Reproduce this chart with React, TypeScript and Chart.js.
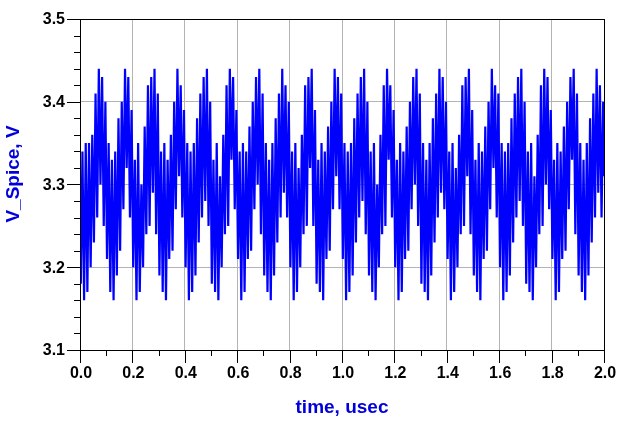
import { useEffect, useRef } from 'react';
import { Chart, registerables } from 'chart.js';

Chart.register(...registerables);

// Transient voltage V_Spice (V); extrema of the fast ripple, one every half-cycle
const halfCycleUs = 0.00625;
const startVolt = 3.30;
const endVolt = 3.31;

// 0.0 – 0.5 usec
const voltsA = [
  3.18, 3.34, 3.16, 3.35, 3.17, 3.35, 3.20, 3.36, 3.23, 3.41, 3.26, 3.44, 3.30, 3.43, 3.25, 3.40,
  3.21, 3.35, 3.17, 3.33, 3.16, 3.34, 3.19, 3.38, 3.22, 3.40, 3.27, 3.44, 3.32, 3.43, 3.26, 3.39,
  3.20, 3.33, 3.16, 3.35, 3.17, 3.30, 3.20, 3.37, 3.24, 3.42, 3.25, 3.43, 3.29, 3.44, 3.24, 3.41,
  3.19, 3.34, 3.17, 3.35, 3.16, 3.33, 3.21, 3.36, 3.22, 3.40, 3.27, 3.44, 3.31, 3.42, 3.26, 3.39,
  3.20, 3.35, 3.16, 3.34, 3.17, 3.35, 3.19, 3.38, 3.23, 3.41, 3.26, 3.43, 3.28, 3.44, 3.25, 3.40,
];
// 0.5 – 1.0 usec
const voltsB = [
  3.18, 3.33, 3.17, 3.35, 3.16, 3.31, 3.20, 3.36, 3.24, 3.42, 3.25, 3.44, 3.33, 3.43, 3.27, 3.39,
  3.21, 3.34, 3.16, 3.35, 3.17, 3.34, 3.21, 3.37, 3.22, 3.40, 3.27, 3.43, 3.30, 3.44, 3.24, 3.41,
  3.19, 3.35, 3.17, 3.33, 3.16, 3.35, 3.19, 3.38, 3.23, 3.41, 3.26, 3.44, 3.29, 3.42, 3.26, 3.40,
  3.20, 3.34, 3.16, 3.35, 3.17, 3.32, 3.20, 3.36, 3.24, 3.42, 3.25, 3.43, 3.32, 3.44, 3.25, 3.39,
  3.18, 3.33, 3.17, 3.35, 3.16, 3.34, 3.21, 3.37, 3.22, 3.40, 3.27, 3.44, 3.31, 3.43, 3.27, 3.41,
];
// 1.0 – 1.5 usec
const voltsC = [
  3.21, 3.35, 3.16, 3.34, 3.17, 3.35, 3.19, 3.38, 3.23, 3.41, 3.26, 3.43, 3.28, 3.44, 3.24, 3.40,
  3.19, 3.34, 3.17, 3.35, 3.16, 3.30, 3.20, 3.36, 3.24, 3.42, 3.25, 3.44, 3.33, 3.42, 3.26, 3.39,
  3.20, 3.33, 3.16, 3.35, 3.17, 3.34, 3.21, 3.37, 3.22, 3.40, 3.27, 3.43, 3.30, 3.44, 3.25, 3.41,
  3.18, 3.35, 3.17, 3.33, 3.16, 3.35, 3.19, 3.38, 3.23, 3.41, 3.26, 3.44, 3.29, 3.43, 3.27, 3.40,
  3.21, 3.34, 3.16, 3.35, 3.17, 3.32, 3.20, 3.36, 3.24, 3.42, 3.25, 3.43, 3.31, 3.44, 3.24, 3.39,
];
// 1.5 – 2.0 usec
const voltsD = [
  3.19, 3.33, 3.17, 3.35, 3.16, 3.34, 3.21, 3.37, 3.22, 3.40, 3.27, 3.44, 3.32, 3.42, 3.26, 3.41,
  3.20, 3.35, 3.16, 3.34, 3.17, 3.35, 3.19, 3.38, 3.23, 3.41, 3.26, 3.43, 3.28, 3.44, 3.25, 3.40,
  3.18, 3.34, 3.17, 3.35, 3.16, 3.31, 3.20, 3.36, 3.24, 3.42, 3.25, 3.44, 3.30, 3.43, 3.27, 3.39,
  3.21, 3.33, 3.16, 3.35, 3.17, 3.34, 3.21, 3.37, 3.22, 3.40, 3.27, 3.43, 3.33, 3.44, 3.24, 3.41,
  3.19, 3.35, 3.17, 3.33, 3.16, 3.35, 3.19, 3.38, 3.23, 3.41, 3.26, 3.44, 3.29, 3.42, 3.26, 3.40,
];

const xTickValues = [0, 0.2, 0.4, 0.6, 0.8, 1.0, 1.2, 1.4, 1.6, 1.8, 2.0];
const xTickLabels = ['0.0', '0.2', '0.4', '0.6', '0.8', '1.0', '1.2', '1.4', '1.6', '1.8', '2.0'];
const yTickValues = [3.1, 3.2, 3.3, 3.4, 3.5];
const yTickLabels = ['3.1', '3.2', '3.3', '3.4', '3.5'];
const xMinorStep = 0.1;
const yMinorStep = 0.02;
const xTitle = 'time, usec';
const yTitle = 'V_Spice, V';

const TICK_FONT = 'bold 16px "Liberation Sans", Arial, sans-serif';
const TITLE_FONT = 'bold 19px "Liberation Sans", Arial, sans-serif';
const TITLE_COLOR = '#0000dd';
const GRID_COLOR = '#b4b4b4';

export default function App() {
  const ref = useRef<HTMLCanvasElement>(null);

  useEffect(() => {
    if (!ref.current) return;
    const volts = [...voltsA, ...voltsB, ...voltsC, ...voltsD];
    const points = [
      { x: 0, y: startVolt },
      ...volts.map((v, i) => ({ x: (i + 0.5) * halfCycleUs, y: v })),
      { x: 2, y: endVolt },
    ];

    const decor = {
      id: 'decor',
      afterDraw(chart: any) {
        const ctx = chart.ctx as CanvasRenderingContext2D;
        const { left, right, top, bottom } = chart.chartArea;
        const xs = chart.scales.x;
        const ys = chart.scales.y;
        ctx.save();
        ctx.strokeStyle = '#000';
        ctx.lineWidth = 1;
        ctx.strokeRect(Math.round(left) + 0.5, Math.round(top) + 0.5, Math.round(right - left), Math.round(bottom - top));

        // y ticks
        const yMinorCount = Math.round((ys.max - ys.min) / yMinorStep);
        for (let i = 0; i <= yMinorCount; i++) {
          const v = ys.min + i * yMinorStep;
          const py = Math.round(ys.getPixelForValue(v)) + 0.5;
          const major = i % 5 === 0;
          ctx.beginPath();
          ctx.moveTo(left - (major ? 13 : 6), py);
          ctx.lineTo(left, py);
          ctx.stroke();
        }
        // x ticks
        const xMinorCount = Math.round((xs.max - xs.min) / xMinorStep);
        for (let i = 0; i <= xMinorCount; i++) {
          const v = xs.min + i * xMinorStep;
          const px = Math.round(xs.getPixelForValue(v)) + 0.5;
          const major = i % 2 === 0;
          ctx.beginPath();
          ctx.moveTo(px, bottom);
          ctx.lineTo(px, bottom + (major ? 13 : 6));
          ctx.stroke();
        }

        ctx.fillStyle = '#000';
        ctx.font = TICK_FONT;
        ctx.textAlign = 'right';
        ctx.textBaseline = 'middle';
        yTickValues.forEach((v, i) => {
          ctx.fillText(yTickLabels[i], left - 15, ys.getPixelForValue(v) + 1);
        });
        ctx.textAlign = 'center';
        xTickValues.forEach((v, i) => {
          ctx.fillText(xTickLabels[i], xs.getPixelForValue(v) + 1, bottom + 24);
        });

        ctx.fillStyle = TITLE_COLOR;
        ctx.font = TITLE_FONT;
        ctx.textAlign = 'center';
        ctx.textBaseline = 'middle';
        ctx.fillText(xTitle, (left + right) / 2, bottom + 58);
        ctx.translate(14, 174);
        ctx.rotate(-Math.PI / 2);
        ctx.fillText(yTitle, 0, 0);
        ctx.restore();
      },
    };

    const chart = new Chart(ref.current, {
      type: 'line',
      data: {
        datasets: [
          {
            data: points,
            borderColor: '#0000ff',
            borderWidth: 2.2,
            pointRadius: 0,
            tension: 0,
            fill: false,
            borderJoinStyle: 'bevel',
          } as any,
        ],
      },
      options: {
        animation: false,
        responsive: false,
        devicePixelRatio: 1,
        layout: { padding: { left: 0, top: 19, right: 16, bottom: 0 } },
        plugins: { legend: { display: false }, tooltip: { enabled: false } },
        scales: {
          x: {
            type: 'linear',
            min: 0,
            max: 2,
            ticks: { display: false, stepSize: 0.2 },
            grid: { color: GRID_COLOR, lineWidth: 1, drawTicks: false },
            border: { display: false },
            afterFit(s: any) {
              s.height = 72;
            },
          },
          y: {
            type: 'linear',
            min: 3.1,
            max: 3.5,
            ticks: { display: false, stepSize: 0.1 },
            grid: { color: GRID_COLOR, lineWidth: 1, drawTicks: false },
            border: { display: false },
            afterFit(s: any) {
              s.width = 80;
            },
          },
        },
      } as any,
      plugins: [decor],
    });
    return () => chart.destroy();
  }, []);

  return (
    <div style={{ position: 'absolute', left: 0, top: 0, width: 620, height: 422, background: '#fff' }}>
      <canvas ref={ref} width={620} height={422} style={{ display: 'block', width: 620, height: 422 }} />
    </div>
  );
}
